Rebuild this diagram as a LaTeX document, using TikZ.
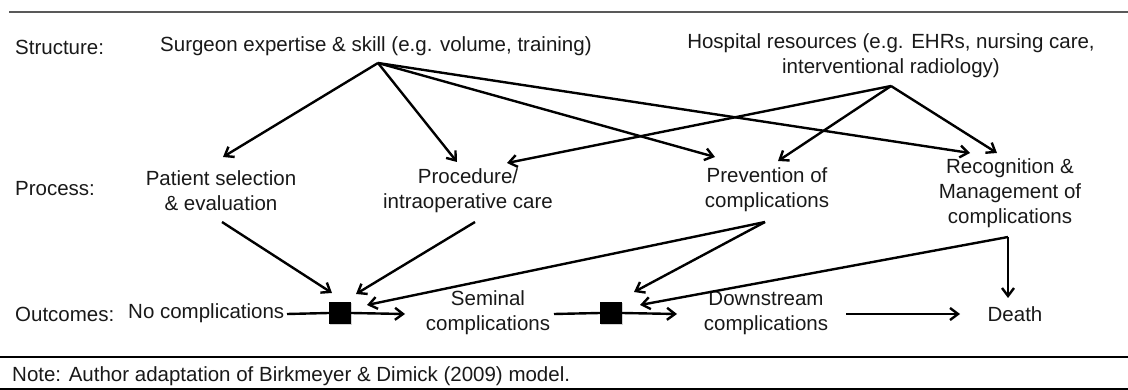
\documentclass[tikz,border=0pt]{standalone}
\usepackage{fontspec}
\setmainfont{Liberation Sans}
\usetikzlibrary{arrows.meta,shadows}
\begin{document}
\begin{tikzpicture}[x=1pt,y=-1pt,
 every node/.style={font=\fontsize{20.5}{25}\selectfont, inner sep=0pt, align=center, text=black!90},
 arr/.style={line width=2.4pt, -{Straight Barb[length=8pt,width=12pt,line width=2.4pt]}},
 ln/.style={line width=2.4pt},
 junc/.style={fill=black, minimum size=22pt, inner sep=0pt, draw=none, drop shadow={opacity=0.35, shadow xshift=1pt, shadow yshift=-1.5pt}},
 lab/.style={anchor=west},
 rule/.style={line width=1.3pt}]
\useasboundingbox (0,0) rectangle (1128,390);
% rules
\draw[rule, black!65] (9,12) -- (1128,12);
\draw[rule] (0,357) -- (1128,357);
\draw[rule] (0,389) -- (1128,389);
% texts
\node[lab] (structure) at (15,47) {Structure:};
\node[lab] (surgeon) at (160,46) {Surgeon expertise \& skill (e.g. volume, training)};
\node (hospital) at (891,56) {Hospital resources (e.g. EHRs, nursing care,\\interventional radiology)};
\node[lab] (process) at (15,189) {Process:};
\node (patient) at (221,191) {Patient selection\\\& evaluation};
\node (procedure) at (468,191) {Procedure/\\intraoperative care};
\node (prevention) at (767,190) {Prevention of\\complications};
\node (recognition) at (1010,193) {Recognition \&\\Management of\\complications};
\node[lab] (outcomes) at (15,314) {Outcomes:};
\node[lab] (nocomp) at (128,313) {No complications};
\node[junc] (j1) at (340,313) {};
\node (seminal) at (488,313) {Seminal\\complications};
\node[junc] (j2) at (611,313) {};
\node (downstream) at (766,313) {Downstream\\complications};
\node (death) at (1015,314) {Death};
\node[lab] (note) at (12,376) {Note: Author adaptation of Birkmeyer \& Dimick (2009) model.};
% connector ends
\coordinate (sOut) at (378,63);
\coordinate (hOut) at (891,86);
\coordinate (patIn) at (223,157);
\coordinate (procInS) at (457,162);
\coordinate (procInH) at (507,163);
\coordinate (prevInS) at (715,157);
\coordinate (prevInH) at (778,161);
\coordinate (recInS) at (970,153);
\coordinate (recInH) at (997,153);
\coordinate (patOut) at (222,222);
\coordinate (procOut) at (475,222);
\coordinate (prevOut) at (765,222);
\coordinate (recOut) at (1008,237);
\coordinate (j1a) at (332,293);
\coordinate (j1b) at (356,294);
\coordinate (j1c) at (367,305);
\coordinate (j2a) at (634,292);
\coordinate (j2b) at (640,305);
\coordinate (deathIn) at (1008,298);
\coordinate (noOut) at (287,314);
\coordinate (semIn) at (405,314);
\coordinate (semOut) at (554,314);
\coordinate (dsIn) at (677,314);
\coordinate (dsOut) at (846,314);
\coordinate (deathW) at (960,314);
% structure -> process
\draw[arr] (sOut) -- (patIn);
\draw[arr] (sOut) -- (procInS);
\draw[arr] (sOut) -- (prevInS);
\draw[arr] (sOut) -- (recInS);
\draw[arr] (hOut) -- (procInH);
\draw[arr] (hOut) -- (prevInH);
\draw[arr] (hOut) -- (recInH);
% process -> outcomes
\draw[arr] (patOut) -- (j1a);
\draw[arr] (procOut) -- (j1b);
\draw[arr] (prevOut) -- (j1c);
\draw[arr] (prevOut) -- (j2a);
\draw[arr] (recOut) -- (j2b);
\draw[arr] (recOut) -- (deathIn);
% outcome chain
\draw[ln] (noOut) -- (j1.west);
\draw[arr] (j1.east) -- (semIn);
\draw[ln] (semOut) -- (j2.west);
\draw[arr] (j2.east) -- (dsIn);
\draw[arr] (dsOut) -- (deathW);
\end{tikzpicture}
\end{document}
